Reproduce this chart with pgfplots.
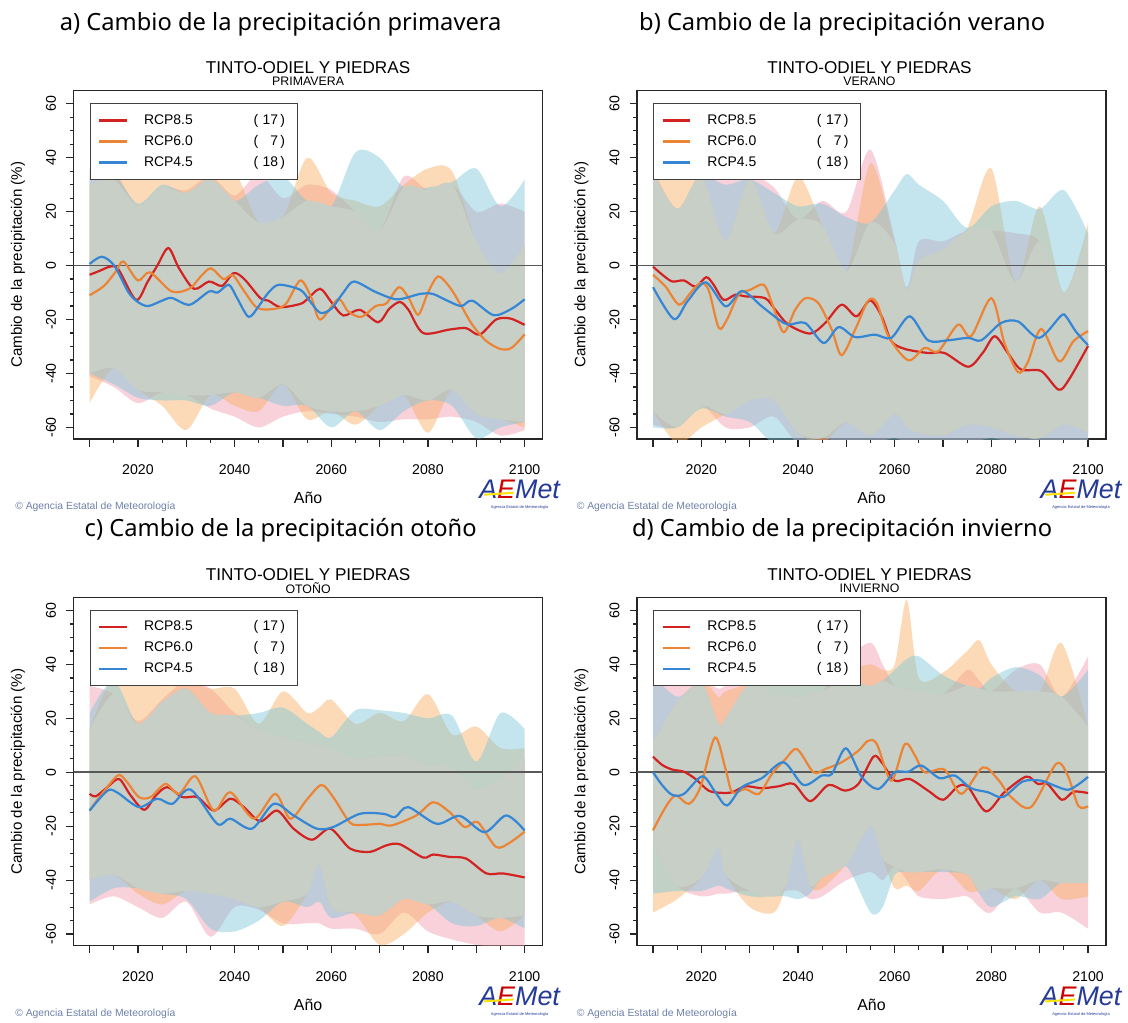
\documentclass[border=0pt]{standalone}
\usepackage{pgfplots}
\pgfplotsset{compat=1.18}
\usepackage{pgfplotstable}
\usepgfplotslibrary{fillbetween}
\usepackage{fontspec}
\setmainfont{Liberation Sans}
\newfontfamily\titlefont{Noto Sans}

\definecolor{c85}{RGB}{210,34,34}
\definecolor{c60}{RGB}{236,132,54}
\definecolor{c45}{RGB}{54,134,214}
\definecolor{f85}{RGB}{240,152,174}
\definecolor{f60}{RGB}{248,174,96}
\definecolor{f45}{RGB}{124,198,218}
\definecolor{fall}{RGB}{200,207,198}
\definecolor{aemet}{RGB}{36,58,150}
\definecolor{copyc}{RGB}{110,128,168}

% band limits: upper/lower of each scenario
\pgfplotstableread{
yr rU oU bU rL oL bL
2010 36 30 35 -41 -51 -40
2015 35 32 34 -45 -38 -44
2020 22 38 23 -51 -46 -49
2025 29 37 30 -47 -52 -50
2030 28 36 27 -48 -61 -50
2035 33 36 32 -53 -48 -52
2040 26 35 24 -56 -52 -47
2045 34 16 30 -60 -54 -49
2050 25 18 33 -56 -44 -52
2055 30 40 24 -54 -57 -52
2060 28 27 22 -55 -54 -60
2065 20 24 42 -56 -59 -54
2070 13 22 40 -58 -52 -61
2075 33 30 29 -57 -48 -54
2080 28 36 29 -57 -62 -50
2085 30 35 31 -56 -46 -52
2090 20 9 36 -58 -55 -64
2095 23 -3 22 -63 -57 -60
2100 20 8 32 -61 -60 -58
}\bandA

\pgfplotstableread{
yr rU oU bU rL oL bL
2010 36 36 35 -59 -54 -60
2015 21 36 21 -60 -66 -60
2020 35 34 33 -52 -60 -53
2025 33 9 30 -60 -55 -56
2030 34 32 32 -60 -50 -58
2035 29 12 27 -56 -50 -66
2040 17 33 22 -66 -62 -66
2045 24 15 23 -66 -66 -64
2050 20 -2 18 -66 -58 -66
2055 43 38 16 -66 -63 -66
2060 10 8 28 -64 -55 -66
2062.5 -8 -9 34 -66 -60 -66
2065 9 2 30 -66 -62 -66
2070 9 6 24 -66 -63 -66
2075 13 14 14 -66 -59 -66
2080 13 36 22 -64 -60 -66
2085 12 -6 24 -66 -63 -66
2090 9 22 21 -66 -64 -66
2095 -10 -10 28 -66 -59 -66
2100 12 16 12 -66 -62 -66
}\bandB

\pgfplotstableread{
yr rU oU bU rL oL bL
2010 32 16 22 -49 -40 -48
2015 29 36 34 -46 -38 -43
2020 19 34 18 -50 -45 -43
2025 27 34 26 -54 -49 -45
2030 34 34 31 -48 -44 -47
2035 31 31 22 -61 -45 -58
2040 22 31 21 -50 -47 -59
2045 16 18 22 -51 -50 -55
2050 13 30 24 -56 -57 -48
2055 11 22 18 -56 -45 -50
2057.5 10 24 15 -56 -34 -48
2060 9 27 13 -58 -50 -54
2065 5 18 23 -58 -53 -52
2070 6 22 23 -60 -64 -53
2075 6 19 22 -52 -60 -47
2080 3 29 20 -59 -52 -49
2085 2 14 21 -62 -48 -56
2090 -6 17 4 -64 -53 -57
2095 -2 9 22 -65 -59 -54
2100 5 9 16 -65 -53 -58
}\bandC

\pgfplotstableread{
yr rU oU bU rL oL bL
2010 40 11 36 -26 -52 -45
2015 40 26 28 -42 -47 -44
2020 35 34 33 -46 -39 -44
2023.5 31 28 18 -45 -28 -42
2025 32 30 20 -45 -38 -43
2030 34 33 33 -44 -50 -46
2035 29 36 34 -46 -52 -46
2037.5 29 35 33 -44 -42 -46
2040 28 34 32 -44 -25 -47
2042.5 29 34 33 -47 -42 -45
2045 30 34 33 -46 -43 -39
2050 42 38 34 -40 -34 -35
2055 48 40 32 -37 -20 -52
2057.5 40 38 34 -40 -32 -50
2060 32 40 38 -35 -43 -38
2062.5 31 64 42 -40 -42 -37
2065 30 35 43 -46 -44 -37
2070 29 37 36 -47 -36 -37
2075 38 45 32 -46 -44 -38
2077.5 34 49 31 -50 -44 -45
2080 30 40 35 -52 -43 -50
2085 38 30 39 -43 -47 -46
2090 40 30 36 -52 -40 -47
2094.5 28 48 28 -52 -47 -41
2100 43 17 38 -58 -46 -41
}\bandD

\newcommand{\bands}[1]{%
  \addplot[forget plot, draw=none, smooth, name path=rU] table[x=yr, y=rU] {#1};
  \addplot[forget plot, draw=none, smooth, name path=rL] table[x=yr, y=rL] {#1};
  \addplot[forget plot, draw=none, smooth, name path=oU] table[x=yr, y=oU] {#1};
  \addplot[forget plot, draw=none, smooth, name path=oL] table[x=yr, y=oL] {#1};
  \addplot[forget plot, draw=none, smooth, name path=bU] table[x=yr, y=bU] {#1};
  \addplot[forget plot, draw=none, smooth, name path=bL] table[x=yr, y=bL] {#1};
  \addplot[forget plot, fill=f85, fill opacity=0.45] fill between[of=rU and rL];
  \addplot[forget plot, fill=f60, fill opacity=0.45] fill between[of=oU and oL];
  \addplot[forget plot, fill=f45, fill opacity=0.45] fill between[of=bU and bL];
  \addplot[forget plot, draw=none, smooth, name path=gU]
    table[x=yr, y expr={min(\thisrow{rU},\thisrow{oU},\thisrow{bU})}] {#1};
  \addplot[forget plot, draw=none, smooth, name path=gL]
    table[x=yr, y expr={max(\thisrow{rL},\thisrow{oL},\thisrow{bL})}] {#1};
  \addplot[forget plot, fill=fall] fill between[of=gU and gL];
  \addplot[forget plot, black!65, line width=0.8pt] coordinates {(2000,0) (2110,0)};
}

\newcommand{\lentries}{%
  \addlegendentry{\makebox[55pt][l]{RCP8.5}(\makebox[10pt][r]{17}\,)}
  \addlegendentry{\makebox[55pt][l]{RCP6.0}(\makebox[10pt][r]{7}\,)}
  \addlegendentry{\makebox[55pt][l]{RCP4.5}(\makebox[10pt][r]{18}\,)}
}

\pgfplotsset{
  panel/.style={
    width=235.5pt, height=175pt, scale only axis, anchor=north west,
    xmin=2006.7, xmax=2103.7, ymin=-64.3, ymax=64.9,
    axis line style={black!85, line width=0.7pt},
    tick style={black!85, line width=0.6pt},
    tick align=outside, xtick pos=bottom, ytick pos=left,
    major tick length=3.8pt, minor tick length=2pt,
    xtick={2010,2020,...,2100},
    xticklabels={,2020,,2040,,2060,,2080,,2100},
    minor xtick={2015,2025,...,2095},
    ytick={-60,-40,...,60}, minor y tick num=3,
    /pgf/number format/assume math mode=true,
    /pgf/number format/1000 sep={},
    xticklabel style={yshift=-5.5pt, font=\fontsize{7.1}{8}\selectfont},
    yticklabel style={xshift=-1.5pt, rotate=90, anchor=south, font=\fontsize{7.1}{8}\selectfont},
    xlabel={Año}, ylabel={Cambio de la precipitación (\%)},
    xlabel style={at={(axis description cs:0.5,-0.17)}, anchor=center, font=\fontsize{8}{9}\selectfont},
    ylabel style={at={(axis description cs:-0.119,0.5)}, anchor=center, font=\fontsize{7.6}{9}\selectfont},
    legend cell align=left,
    legend style={at={(axis description cs:0.034,0.963)}, anchor=north west,
      draw=black!75, line width=0.5pt, fill=white, fill opacity=1,
      font=\fontsize{7}{8.4}\selectfont, inner xsep=4pt, inner ysep=3pt,
      /tikz/every odd column/.append style={column sep=6pt}},
    legend image code/.code={\draw[#1, line width=1.1pt] (0pt,0pt) -- (14pt,0pt);},
  },
  l85/.style={c85, line width=1.1pt, smooth},
  l60/.style={c60, line width=1.1pt, smooth},
  l45/.style={c45, line width=1.1pt, smooth},
}

\newcommand{\decor}[4]{% x offset, y offset, main title, season
  \node[font=\titlefont\fontsize{11.9}{14}\selectfont] at (#1+141pt,#2-12pt) {#3};
  \node[font=\fontsize{8.6}{9}\selectfont] at (#1+154.75pt,#2-34.2pt) {TINTO-ODIEL Y PIEDRAS};
  \node[font=\fontsize{6.2}{6.5}\selectfont] at (#1+154.75pt,#2-40.8pt) {#4};
  \node[anchor=west, inner sep=0pt, text=copyc, font=\fontsize{5.2}{6}\selectfont] at (#1+7.5pt,#2-254.5pt) {\textcopyright\ Agencia Estatal de Meteorología};
  \node[font=\fontsize{13.5}{14}\selectfont\itshape] at (#1+261pt,#2-246pt) {\textcolor{aemet}{A}\textcolor{red!80!black}{E}\textcolor{aemet}{Met}};
  \draw[yellow!85!orange, line width=1pt] (#1+243pt,#2-248.5pt) -- (#1+258pt,#2-247.5pt);
  \node[text=aemet, font=\fontsize{2}{2}\selectfont] at (#1+261pt,#2-255pt) {Agencia Estatal de Meteorología};
}

\begin{document}
\begin{tikzpicture}
\path (0,0) rectangle (564pt,-510.5pt);

% a) primavera
\begin{axis}[panel, at={(37pt,-45.5pt)}]
\bands{\bandA}
\addplot[l85] coordinates {(2010,-3.4) (2012,-2) (2014.4,-0.3) (2016,-1.5) (2019.6,-12.7) (2022,-6) (2024,0) (2026.3,6.5) (2028.5,-1) (2031.6,-8.6) (2034.7,-5.9) (2037.4,-7.5) (2039.8,-2.8) (2042,-5) (2045.3,-12) (2047,-13) (2049.5,-15.4) (2053.6,-14.2) (2055,-12.5) (2057.7,-8.6) (2060,-13.5) (2062.5,-18.5) (2065.9,-16.4) (2069.7,-21) (2072,-16) (2074.2,-13.5) (2076,-16.5) (2079,-25) (2084.5,-23.7) (2087.9,-23.2) (2090.7,-25.6) (2094.1,-20) (2097,-19.6) (2100,-22)};
\addplot[l60] coordinates {(2010,-11) (2013,-7.5) (2015.5,-2) (2017,1.5) (2020,-5.5) (2022.5,-2.5) (2027,-9.6) (2030.7,-8.5) (2033,-4) (2035.1,-1) (2037.7,-5) (2039.6,-3.5) (2041.8,-9) (2044.7,-15.7) (2048.4,-16) (2050.7,-14) (2053.6,-5.5) (2055.9,-12) (2057.7,-20) (2061.4,-12.5) (2063.5,-17) (2066.2,-19) (2069.2,-15) (2071.4,-14) (2074,-8) (2076,-12) (2078,-18.2) (2080,-10) (2082.1,-4) (2084.5,-8) (2086.6,-14) (2089.2,-22) (2092.1,-28) (2095.1,-31) (2097.3,-30.5) (2100,-25.5)};
\addplot[l45] coordinates {(2010,0.6) (2012.5,3.3) (2015.1,0) (2018,-9.8) (2020,-13.5) (2022.1,-15) (2025,-13) (2027,-12) (2030.7,-14.5) (2034.7,-9.6) (2036.5,-10) (2038.8,-7.1) (2040.5,-12) (2042.9,-19) (2045,-15) (2047,-10) (2049.2,-7.1) (2053.6,-9) (2055.5,-13) (2057.7,-17.5) (2060,-16) (2062.5,-10) (2064.7,-5.9) (2069.2,-9.8) (2073.6,-12.5) (2078.4,-10.5) (2081,-10.5) (2084,-13) (2086.9,-15) (2089.2,-13) (2093.6,-18.4) (2097.3,-16) (2100,-12.5)};
\lentries
\end{axis}

% b) verano
\begin{axis}[panel, at={(320pt,-45.5pt)}]
\bands{\bandB}
\addplot[l85] coordinates {(2010,-0.4) (2012,-3.5) (2014,-5.9) (2016.4,-5.5) (2018.8,-7.8) (2021,-4.3) (2022.5,-7) (2024.6,-12.7) (2027,-10.8) (2029.1,-11.4) (2033.2,-12.1) (2035.3,-16.4) (2038,-21.9) (2042.5,-25.2) (2045.6,-21.3) (2049,-14.5) (2052.1,-18.8) (2054.9,-12.9) (2057.3,-18.8) (2059.3,-28) (2062.1,-30.9) (2066.9,-32.4) (2070.3,-32.4) (2075.2,-37.5) (2078.2,-32.4) (2080.7,-26.2) (2083.4,-32.4) (2086.1,-38.5) (2090.3,-39.1) (2093.9,-46) (2096,-42.4) (2100,-29.8)};
\addplot[l60] coordinates {(2010,-3.4) (2012.6,-7.8) (2015.4,-14.5) (2017.8,-10) (2019.8,-6.5) (2021.5,-9) (2023.6,-23.1) (2025.3,-20) (2027.7,-10.8) (2030.1,-9) (2032.9,-7.1) (2034.6,-13.9) (2037,-24.7) (2039.4,-16.4) (2041.5,-12.1) (2044.2,-13.9) (2047,-23.8) (2049,-33.2) (2051.8,-23.8) (2054.5,-13) (2056.3,-13.9) (2058.7,-26.2) (2062.8,-35.1) (2066.2,-30.5) (2069,-31.8) (2073.1,-21.9) (2075.8,-26.2) (2080,-12.1) (2082.7,-28.7) (2085.5,-39.5) (2087.5,-36) (2090.3,-23.5) (2094,-35.5) (2097,-28) (2100,-24.3)};
\addplot[l45] coordinates {(2010,-8) (2014.3,-19.8) (2017.1,-13.3) (2020.9,-6.2) (2025,-15.1) (2028.4,-9.4) (2032.5,-15.1) (2036,-20) (2038,-21.9) (2041.5,-21.3) (2045.3,-28.7) (2048.4,-22.8) (2051.8,-26.5) (2055.9,-25.6) (2059.3,-26.8) (2063.1,-18.8) (2066.9,-27.7) (2071,-27.7) (2075.2,-26.8) (2077.9,-27.7) (2082,-21.3) (2085.5,-20.7) (2089.9,-26.8) (2094.4,-18.6) (2095.5,-19) (2097.5,-24.5) (2100,-29.5)};
\lentries
\end{axis}

% c) otono
\begin{axis}[panel, at={(37pt,-300pt)}]
\bands{\bandC}
\addplot[l85] coordinates {(2010,-8) (2011.3,-8.9) (2013.7,-5.5) (2016.1,-2.5) (2018.5,-8.6) (2021.3,-13.9) (2023.7,-8.6) (2026.1,-5.5) (2029.2,-9.2) (2032.3,-9.2) (2035.7,-14.2) (2039.1,-9.8) (2041.9,-12.9) (2045.3,-18.2) (2048.8,-14.2) (2052.2,-20.9) (2056,-25) (2059.8,-20.9) (2063.9,-28.3) (2068,-29.5) (2071.4,-27.1) (2074.2,-26.7) (2079,-31.6) (2081.1,-30.5) (2084.5,-31.4) (2087.9,-32) (2092.1,-37.5) (2095.5,-37.5) (2100,-39)};
\addplot[l60] coordinates {(2010,-14.2) (2012.3,-8.6) (2015.8,-1.2) (2017.5,-3.1) (2020.2,-9.2) (2022.6,-9.2) (2025.7,-4.3) (2028.5,-8) (2031.9,-1.5) (2035.7,-14.2) (2039.1,-7.4) (2044,-17.2) (2048.4,-8) (2051.5,-17.2) (2055,-10) (2058,-4.7) (2060.5,-9.5) (2063.9,-18.7) (2066.5,-19.5) (2070.1,-19.1) (2072.5,-19.7) (2077.6,-16) (2081.1,-11.1) (2084.5,-14.8) (2087.6,-20.3) (2090.3,-18.5) (2094.1,-27.7) (2097,-26) (2100,-22)};
\addplot[l45] coordinates {(2010,-14.2) (2013.7,-6.8) (2015.8,-7.6) (2020.2,-12.9) (2024,-9.8) (2027.1,-11.7) (2030.9,-6.4) (2036.4,-19.1) (2039.1,-17.2) (2043.6,-20.9) (2048.1,-11.7) (2052.2,-16) (2057,-20.9) (2060.4,-20.3) (2065.9,-15.4) (2070.8,-15.4) (2073.2,-16.6) (2075.9,-12.9) (2081.8,-19.1) (2086.6,-16.2) (2091.7,-22.2) (2096.2,-16) (2100,-21.6)};
\lentries
\end{axis}

% d) invierno
\begin{axis}[panel, at={(320pt,-300pt)}]
\bands{\bandD}
\addplot[l85] coordinates {(2010,5.8) (2011.9,2.7) (2014,1) (2016.4,0.2) (2018.8,-2.5) (2021.5,-6.8) (2024,-7.6) (2026.4,-7.4) (2029.1,-5.2) (2032.5,-5.9) (2036,-5.2) (2039.1,-4.3) (2042.5,-10.7) (2046.3,-4.7) (2049.7,-6.8) (2052.5,-4.3) (2055.6,5.8) (2057.3,3.7) (2060,-3.1) (2063.1,-2.5) (2066.9,-6.8) (2070,-10.2) (2073.1,-5.2) (2075.2,-5.5) (2078.9,-14.5) (2082.7,-7.4) (2087.2,-1.6) (2089.6,-4.3) (2091.6,-4.3) (2094.6,-10.2) (2097,-7.2) (2100,-7.7)};
\addplot[l60] coordinates {(2010,-21.5) (2012.6,-12.9) (2014.7,-8.6) (2017.4,-11.7) (2019.8,-5.5) (2022.8,12.9) (2025,1.2) (2026.4,-7.4) (2029.1,-6.2) (2031.9,-8) (2034.6,-0.6) (2037.4,4.9) (2039.8,8.6) (2043.2,0) (2045.6,1.2) (2049,3.7) (2052.5,8) (2054.5,11.7) (2056.3,10.5) (2059.3,-3.1) (2062.1,10.5) (2064.2,6.2) (2066.2,0) (2070.3,1) (2073.8,-8) (2078.2,1.8) (2081.3,-2.5) (2084.1,-9.2) (2088.2,-12.9) (2093.4,3.1) (2095.8,-1.2) (2098,-12.5) (2100,-12.6)};
\addplot[l45] coordinates {(2010,0) (2012,-5) (2014,-8.4) (2016.4,-8) (2020.2,-1.5) (2022.9,-7.4) (2025.3,-12.3) (2028.4,-5.5) (2032.5,-2.2) (2037,3.7) (2041.1,-4.7) (2044.9,-1.2) (2047,-0.6) (2049.9,8.9) (2053.2,-1.8) (2056.6,-6.2) (2060,0) (2062.8,0.2) (2065.5,2.5) (2069.3,-2.2) (2072.4,-1.2) (2075.8,-5.9) (2079.3,-7.4) (2082.4,-9.2) (2086.5,-3.4) (2090.3,-3.1) (2093,-4.9) (2095.8,-6.5) (2098,-4.5) (2100,-1.7)};
\lentries
\end{axis}

\decor{0pt}{0pt}{a) Cambio de la precipitación primavera}{PRIMAVERA}
\decor{282pt}{0pt}{b) Cambio de la precipitación verano}{VERANO}
\decor{0pt}{-254.5pt}{c) Cambio de la precipitación otoño}{OTOÑO}
\decor{282pt}{-254.5pt}{d) Cambio de la precipitación invierno}{INVIERNO}
\end{tikzpicture}
\end{document}
